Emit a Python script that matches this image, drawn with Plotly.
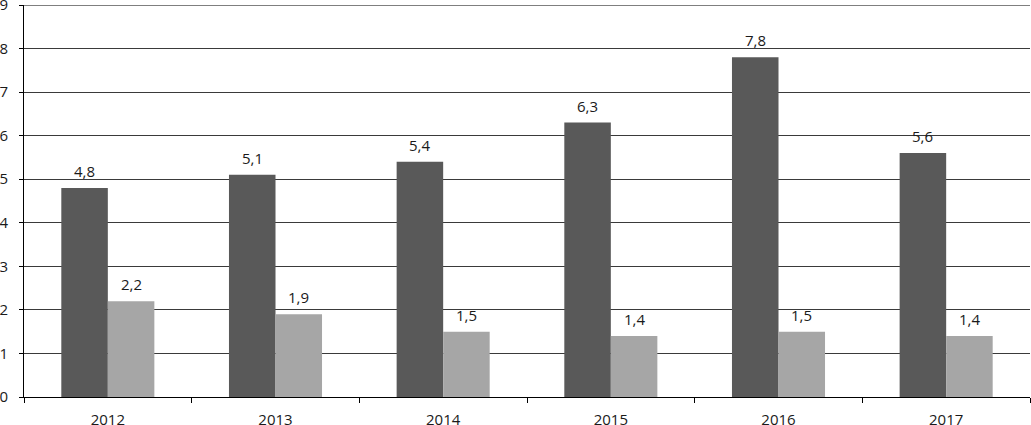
import plotly.graph_objects as go

years = ["2012", "2013", "2014", "2015", "2016", "2017"]
series_dark = [4.8, 5.1, 5.4, 6.3, 7.8, 5.6]
series_light = [2.2, 1.9, 1.5, 1.4, 1.5, 1.4]
y_ticks = [0, 1, 2, 3, 4, 5, 6, 7, 8, 9]

FONT = "Open Sans, Noto Sans, sans-serif"
W, H = 1031, 425
ML, MR, MT, MB = 24, 1, 5, 28
BARGAP = 0.445

fig = go.Figure()
fig.add_trace(go.Bar(x=years, y=series_dark,
                     marker=dict(color="#595959", line=dict(width=0))))
fig.add_trace(go.Bar(x=years, y=series_light,
                     marker=dict(color="#a6a6a6", line=dict(width=0))))

# value labels above bars
cat_w = (W - ML - MR) / len(years)
bar_w = cat_w * (1 - BARGAP) / 2
ann = []
for vals, sign in ((series_dark, -1), (series_light, 1)):
    for i, v in enumerate(vals):
        ann.append(dict(x=i, y=v, xref="x", yref="y",
                        text=f"{v:.1f}".replace(".", ","),
                        showarrow=False, yanchor="bottom",
                        xshift=sign * bar_w / 2, yshift=5,
                        font=dict(size=15, color="#1a1a1a", family=FONT)))

fig.update_layout(
    width=W, height=H,
    margin=dict(l=ML, r=MR, t=MT, b=MB),
    plot_bgcolor="white", paper_bgcolor="white",
    barmode="group", bargap=BARGAP, bargroupgap=0,
    showlegend=False,
    font=dict(family=FONT, size=15, color="#1a1a1a"),
    annotations=ann,
    shapes=[dict(type="line", xref="paper", yref="y", x0=0, x1=1,
                 y0=y_ticks[-1], y1=y_ticks[-1],
                 line=dict(color="#555", width=1.5), layer="below")],
    xaxis=dict(
        type="category", tickson="boundaries", ticks="outside", ticklen=5,
        tickcolor="#000", showline=True, linecolor="#000", linewidth=1,
        showgrid=False, tickfont=dict(size=15), automargin=False,
        ticklabelstandoff=9, range=[-0.5, len(years) - 0.5],
    ),
    yaxis=dict(
        range=[0, 9], tickvals=y_ticks, ticks="outside", ticklen=4,
        tickcolor="#000", showline=True, linecolor="#000", linewidth=1,
        showgrid=True, gridcolor="#3a3a3a", gridwidth=1,
        zeroline=True, zerolinecolor="#000", zerolinewidth=1,
        tickfont=dict(size=15), ticklabelstandoff=8, automargin=False,
        ticklabeloverflow="allow",
    ),
)

fig.write_html("out.html", config={"displayModeBar": False},
               post_script="document.body.style.margin='0';")
